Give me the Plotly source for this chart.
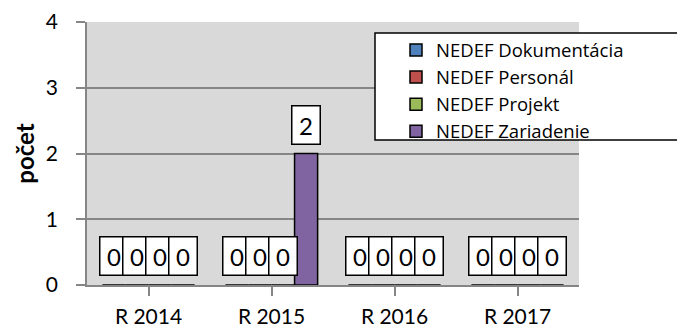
import plotly.graph_objects as go

# Category labels and counts per series
years = ["R 2014", "R 2015", "R 2016", "R 2017"]
series_names = ["NEDEF Dokumentácia", "NEDEF Personál", "NEDEF Projekt", "NEDEF Zariadenie"]
dokumentacia = [0, 0, 0, 0]
personal = [0, 0, 0, 0]
projekt = [0, 0, 0, 0]
zariadenie = [0, 2, 0, 0]

series_values = [dokumentacia, personal, projekt, zariadenie]
colors = ["#4F81BD", "#C0504D", "#9BBB59", "#8064A2"]

FONT = "Lato, 'Open Sans', sans-serif"
LEGEND_FONT = "'Open Sans', Lato, sans-serif"
W, H = 677, 329
M_L, M_R, M_T, M_B = 87, 98, 22, 44
BARGAP = 0.25

fig = go.Figure()
for name, vals, col in zip(series_names, series_values, colors):
    fig.add_trace(go.Bar(
        name=name, x=list(range(len(years))), y=vals,
        marker=dict(color=col, line=dict(color="black", width=1.5)),
    ))

# Boxed value labels above each bar, positioned from the grouped-bar geometry
n = len(series_values)
bw = (1 - BARGAP) / n
annotations = []
for i, vals in enumerate(series_values):
    offset = -(1 - BARGAP) / 2 + bw * (i + 0.5)
    for j, v in enumerate(vals):
        annotations.append(dict(
            x=j + offset, y=v, xref="x", yref="y",
            text=str(v), showarrow=False, yanchor="bottom", yshift=9,
            width=27, height=37, borderpad=0,
            bgcolor="white", bordercolor="black", borderwidth=1.5,
            font=dict(family=FONT, size=24, color="black"),
        ))

# Legend frame
plot_w = W - M_L - M_R
plot_h = H - M_T - M_B
def px_x(px):
    return (px - M_L) / plot_w
def px_y(py):
    return 1 - (py - M_T) / plot_h

shapes = [dict(
    type="rect", xref="paper", yref="paper", layer="above",
    x0=px_x(375), x1=px_x(690), y0=px_y(140), y1=px_y(33),
    fillcolor="white", line=dict(color="black", width=1.5),
)]

fig.update_layout(
    width=W, height=H,
    margin=dict(l=M_L, r=M_R, t=M_T, b=M_B, autoexpand=False),
    paper_bgcolor="white", plot_bgcolor="#D9D9D9",
    barmode="group", bargap=BARGAP, bargroupgap=0,
    font=dict(family=FONT, size=21, color="black"),
    showlegend=True,
    legend=dict(
        x=px_x(396), y=px_y(31.5), xanchor="left", yanchor="top",
        bgcolor="rgba(0,0,0,0)", borderwidth=0,
        font=dict(family=LEGEND_FONT, size=18.5, color="black"),
        tracegroupgap=0,
    ),
    annotations=annotations,
    shapes=shapes,
)
fig.update_xaxes(
    tickmode="array", tickvals=list(range(len(years))), ticktext=years,
    range=[-0.5, len(years) - 0.5],
    tickson="boundaries", ticks="outside", ticklen=9, tickcolor="#868686", tickwidth=1.5,
    showline=True, linecolor="#868686", linewidth=1.5,
    showgrid=False, zeroline=False, ticklabelstandoff=3,
    tickfont=dict(family=FONT, size=21, color="black"),
)
fig.update_yaxes(
    range=[0, 4], dtick=1, tick0=0,
    ticks="outside", ticklen=9, tickcolor="#868686", tickwidth=1.5,
    showline=True, linecolor="#868686", linewidth=1.5,
    showgrid=True, gridcolor="#868686", gridwidth=1.5, zeroline=False,
    ticklabelstandoff=14,
    tickfont=dict(family=FONT, size=21, color="black"),
    title=dict(text="<b>počet</b>", font=dict(family=FONT, size=24, color="black"), standoff=4),
)

fig.write_html("out.html")
